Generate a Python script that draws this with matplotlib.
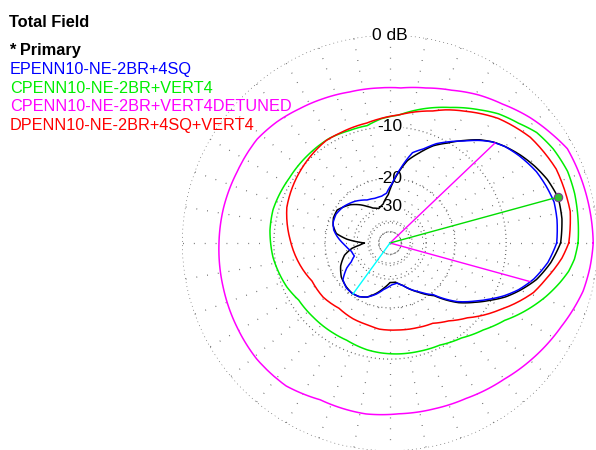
import numpy as np
import matplotlib
matplotlib.use("Agg")
import matplotlib.pyplot as plt

plt.rcParams['font.family'] = ['Liberation Sans', 'DejaVu Sans']

# azimuth pattern traces, angle in degrees, gain in dB (ARRL log scale)
ang_prim = [0, 8, 15, 22, 28, 34, 40, 44, 49, 54, 60, 66, 72, 78, 84, 92, 100, 108, 116, 122,
            128, 136, 148, 156, 163, 170, 175, 180, 184, 188, 195, 205, 215, 225, 233, 240, 247,
            255, 262, 270, 278, 287, 293, 300, 310, 319, 325, 330, 335, 340, 346, 353]
db_prim = [-3.4, -3.1, -3.04, -3.5, -4.1, -4.8, -5.6, -6.2, -7.2, -8.5, -10.1, -11.5, -13.5, -15.5,
           -19.0, -25.0, -28.5, -30.0, -28.8, -27.0, -25.0, -22.8, -20.7, -20.8, -21.5, -23.0, -27.0,
           -36.0, -33.0, -29.0, -25.5, -23.0, -21.5, -20.8, -20.5, -20.8, -21.7, -23.8, -26.0, -28.5,
           -28.5, -26.5, -24.5, -22.3, -19.0, -14.2, -12.0, -10.2, -8.4, -7.0, -5.5, -4.3]

ang_e = [0, 8, 14, 20, 26, 34, 40, 45, 49, 54, 60, 65, 70, 76, 82, 88, 94, 100, 108, 118, 130,
         142, 152, 160, 167, 173, 182, 192, 200, 206, 210, 218, 226, 233, 240, 247, 255, 262, 272,
         280, 287, 293, 300, 310, 319, 325, 330, 335, 340, 346, 353]
db_e = [-3.8, -3.6, -3.55, -3.85, -4.2, -4.95, -5.6, -6.4, -7.3, -8.6, -9.9, -11.0, -12.5, -13.8,
        -17.5, -21.5, -24.5, -25.3, -25.5, -24.9, -23.0, -21.6, -21.0, -21.2, -22.0, -23.4, -26.0,
        -28.5, -29.2, -27.0, -24.5, -21.4, -20.6, -20.5, -20.8, -21.7, -23.5, -25.5, -27.5, -28.0,
        -26.5, -24.5, -22.5, -19.3, -14.5, -12.3, -10.5, -8.7, -7.2, -5.8, -4.6]

ang_c = [0, 7, 15, 22, 30, 37, 43, 50, 56, 66, 76, 86, 94, 101, 110, 120, 133, 147, 164, 174,
         187, 203, 212, 224, 238, 246, 258, 265, 274, 285, 296, 307, 317, 326, 334, 341, 347, 351, 355]
db_c = [-1.73, -1.6, -1.45, -1.42, -1.7, -2.14, -2.9, -3.6, -4.44, -5.8, -7.0, -8.3, -8.8, -9.5,
        -9.5, -9.3, -9.4, -9.47, -9.21, -9.34, -9.75, -10.6, -11.3, -11.45, -11.5, -11.5, -11.05,
        -10.9, -10.75, -10.6, -10.38, -9.6, -8.4, -7.0, -5.33, -4.0, -3.0, -2.4, -2.0]

ang_cd = [0, 8, 15, 22, 28, 34, 42, 51, 59, 68, 77, 86, 94, 105, 115, 124, 133, 142, 155, 168,
          180, 195, 209, 221, 234, 246, 262, 273, 285, 296, 310, 321, 334, 346, 353]
db_cd = [-0.4, -0.45, -0.5, -0.55, -0.6, -1.1, -1.75, -2.6, -3.2, -4.0, -4.6, -5.0, -5.0, -4.9,
         -4.6, -4.3, -3.9, -3.6, -3.6, -3.45, -3.36, -3.2, -3.0, -2.8, -2.8, -3.3, -3.2, -3.36,
         -3.3, -3.16, -2.7, -2.15, -1.5, -0.76, -0.55]

ang_d = [0, 5, 10, 24, 37, 49, 60, 67, 72, 86, 95, 101, 114, 122, 130, 145, 161, 178, 197, 206,
         219, 232, 244, 254, 263, 275, 287, 298, 307, 316, 329, 341, 347, 355]
db_d = [-2.6, -2.4, -2.2, -2.3, -2.9, -3.97, -5.38, -6.23, -6.94, -8.28, -8.8, -9.13, -9.32, -9.34,
        -9.67, -10.32, -11.07, -12.57, -14.17, -15.0, -15.15, -15.8, -15.5, -15.4, -15.0, -14.9,
        -14.6, -14.2, -13.0, -11.3, -8.2, -5.4, -4.5, -3.2]

names = ['EPENN10-NE-2BR+4SQ', 'CPENN10-NE-2BR+VERT4', 'CPENN10-NE-2BR+VERT4DETUNED',
         'DPENN10-NE-2BR+4SQ+VERT4']
colors = ['#0000ff', '#00ee00', '#ff00ff', '#ff0000']

# beam markers of primary trace: max gain, -3 dB points, rear
max_ang, max_db = 15.3, -3.04
bw_ang = [43.6, -15.4]
bw_db = [-6.2, -6.2]
rear_ang, rear_db = 234, -20.5

ring_db = [0, -10, -20, -30, -40, -50]


def arrl(db):
    return 0.89 ** (-np.asarray(db, dtype=float) / 2)


def closed(a, d):
    a = list(a) + [a[0] + 360]
    d = list(d) + [d[0]]
    return np.radians(a), arrl(d)


def trace(a, d, c, z):
    ln, = ax.plot(*closed(a, d), color=c, lw=1.1, zorder=z)
    # let the polar transform bend each segment along theta
    ln.get_path()._interpolation_steps = 12
    return ln


fig = plt.figure(figsize=(5.96, 4.5), dpi=100)
R = 208
cx, cy = 390, 450 - 243
ax = fig.add_axes([(cx - R) / 596, (cy - R) / 450, 2 * R / 596, 2 * R / 450],
                  projection='polar')
ax.set_ylim(0, 1)
ax.grid(False)
ax.set_xticks([])
ax.set_yticks([])
ax.spines['polar'].set_visible(False)
ax.patch.set_alpha(0)

th = np.linspace(0, 2 * np.pi, 400)
for db in ring_db:
    ax.plot(th, np.full_like(th, arrl(db)), color='#555555', lw=0.9,
            ls=(0, (0.7, 2.6)), zorder=1)
for a in range(0, 360, 10):
    ax.plot([np.radians(a)] * 2, [0, 1], color='#666666', lw=0.9,
            ls=(0, (0.7, 8)), zorder=1)

for db in ring_db[:4]:
    lab = '0 dB' if db == 0 else str(db)
    ax.text(np.pi / 2, arrl(db), lab, ha='center', va='center', fontsize=12.5,
            bbox=dict(fc='white', ec='none', pad=0.5), zorder=2)

trace(ang_cd, db_cd, colors[2], 3)
trace(ang_c, db_c, colors[1], 3)
trace(ang_d, db_d, colors[3], 3)
trace(ang_prim, db_prim, 'black', 4)
trace(ang_e, db_e, colors[0], 4)

for a, d in zip(bw_ang, bw_db):
    ax.plot([0, np.radians(a)], [0, arrl(d)], color='#ff00ff', lw=1.0, zorder=5)
ax.plot([0, np.radians(max_ang)], [0, arrl(max_db)], color='#00dd00', lw=1.0, zorder=5)
ax.plot([0, np.radians(rear_ang)], [0, arrl(rear_db)], color='#00ffff', lw=1.0, zorder=5)
ax.plot([np.radians(max_ang)], [arrl(max_db)], 'o', ms=6, mfc='#30c030', mec='#7a3f8f',
        mew=0.8, zorder=6)

def ypos(b):
    return 1 - b / 450

fig.text(9 / 596, ypos(27), 'Total Field', fontsize=11.8, fontweight='bold', va='baseline')
fig.text(9 / 596, ypos(54.5), '* Primary', fontsize=11.8, fontweight='bold', va='baseline')
for i, (n, c) in enumerate(zip(names, colors)):
    fig.text(10 / 596, ypos(74 + i * 18.7), n, fontsize=11.7, color=c, va='baseline')

fig.savefig('out.png', dpi=100)
